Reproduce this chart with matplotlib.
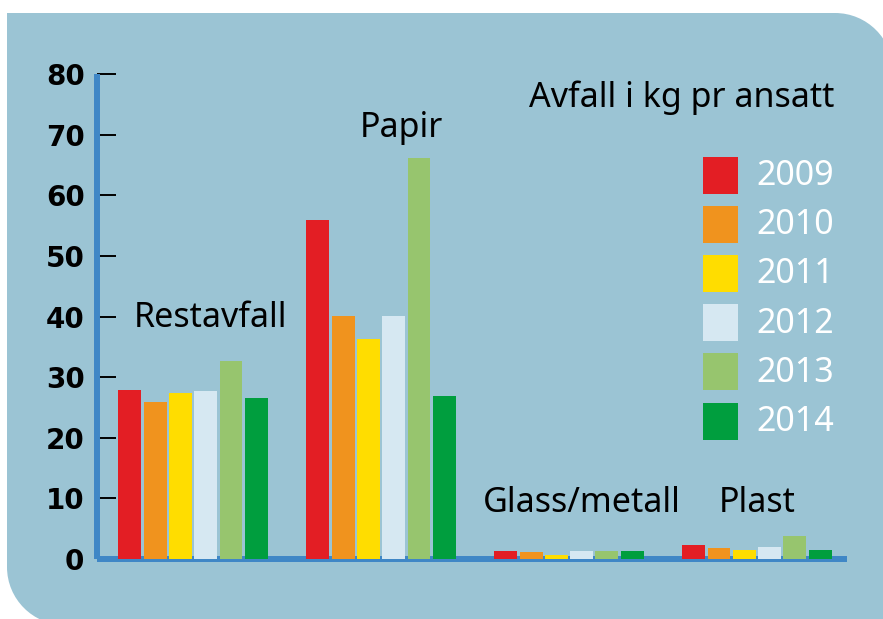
import matplotlib
matplotlib.use("Agg")
import matplotlib.pyplot as plt
import numpy as np
from matplotlib.path import Path
from matplotlib.patches import PathPatch, Rectangle

# Avfall i kg pr ansatt
kategorier = ["Restavfall", "Papir", "Glass/metall", "Plast"]
aar = ["2009", "2010", "2011", "2012", "2013", "2014"]
verdier = {
    "2009": [27.9, 55.9, 1.3, 2.3],
    "2010": [25.9, 40.1, 1.15, 1.8],
    "2011": [27.4, 36.3, 0.6, 1.5],
    "2012": [27.7, 40.1, 1.3, 2.0],
    "2013": [32.7, 66.2, 1.3, 3.8],
    "2014": [26.6, 26.9, 1.3, 1.5],
}
farger = ["#e31e24", "#f0931e", "#ffdd00", "#d6e8f2", "#97c56e", "#009e3e"]
yticks = [0, 10, 20, 30, 40, 50, 60, 70, 80]

W, H = 883, 619
bg = "#9bc4d4"
blaa = "#3f87c6"
tekstfont = ["Noto Sans", "DejaVu Sans"]
fs = 24.5

fig = plt.figure(figsize=(W / 100, H / 100), dpi=100)
fig.patch.set_facecolor("white")

# bakgrunnspanel med avrundede hjorner (oppe til hoyre, nede til venstre)
bak = fig.add_axes([0, 0, 1, 1])
bak.set_xlim(0, W)
bak.set_ylim(H, 0)
bak.axis("off")
x0, y0, x1, y1, r = 7, 13, 893, 625, 58
k = 0.5523
verts = [
    (x0, y0), (x1 - r, y0),
    (x1 - r + k * r, y0), (x1, y0 + r - k * r), (x1, y0 + r),
    (x1, y1), (x0 + r, y1),
    (x0 + r - k * r, y1), (x0, y1 - r + k * r), (x0, y1 - r),
    (x0, y0),
]
codes = [Path.MOVETO, Path.LINETO,
         Path.CURVE4, Path.CURVE4, Path.CURVE4,
         Path.LINETO, Path.LINETO,
         Path.CURVE4, Path.CURVE4, Path.CURVE4,
         Path.CLOSEPOLY]
bak.add_patch(PathPatch(Path(verts, codes), facecolor=bg, edgecolor="none"))

# tegnforklaring
for i, (a, c) in enumerate(zip(aar, farger)):
    yc = 175 + i * 49.2
    bak.add_patch(Rectangle((703, yc - 18.5), 35, 37, facecolor=c, edgecolor="none"))
    bak.text(756, yc + 1, a, color="white", fontsize=fs, family=tekstfont,
             fontweight="medium", va="center", ha="left")
bak.text(834, 107, "Avfall i kg pr ansatt", fontsize=fs, family=tekstfont,
         fontweight="medium", ha="right", va="baseline", color="black")

# hovedakser
ax = fig.add_axes([97 / W, (H - 559) / H, (847 - 97) / W, (559 - 74) / H])
ax.patch.set_alpha(0)
ax.set_ylim(0, 80)
ax.set_xlim(-0.511, 3.479)

pitch = 0.1346
bredde = 0.122
x = np.arange(len(kategorier))
for j, (a, c) in enumerate(zip(aar, farger)):
    ax.bar(x + (j - 2.5) * pitch, verdier[a], width=bredde, color=c, zorder=3)

for s in ["top", "right"]:
    ax.spines[s].set_visible(False)
for s in ["left", "bottom"]:
    ax.spines[s].set_color(blaa)
    ax.spines[s].set_linewidth(4.3)
    ax.spines[s].set_capstyle("butt")

ax.set_yticks(yticks)
ax.set_xticks([])
ax.tick_params(axis="y", direction="in", length=14, width=1.4, color="black",
               pad=9, labelsize=20)
for t in ax.get_yticklabels():
    t.set_fontweight("bold")
    t.set_family("DejaVu Sans")

# kategorietiketter
etikett_pos = [(0.095, 38.3), (0.11, 69.6), (0.07, 7.8), (0.0, 7.8)]
for i, (navn, (dx, yy)) in enumerate(zip(kategorier, etikett_pos)):
    ax.text(x[i] + dx, yy, navn, fontsize=fs, family=tekstfont,
            fontweight="medium", ha="center", va="baseline", color="black",
            zorder=4)

fig.savefig("out.png", dpi=100, facecolor="white")
